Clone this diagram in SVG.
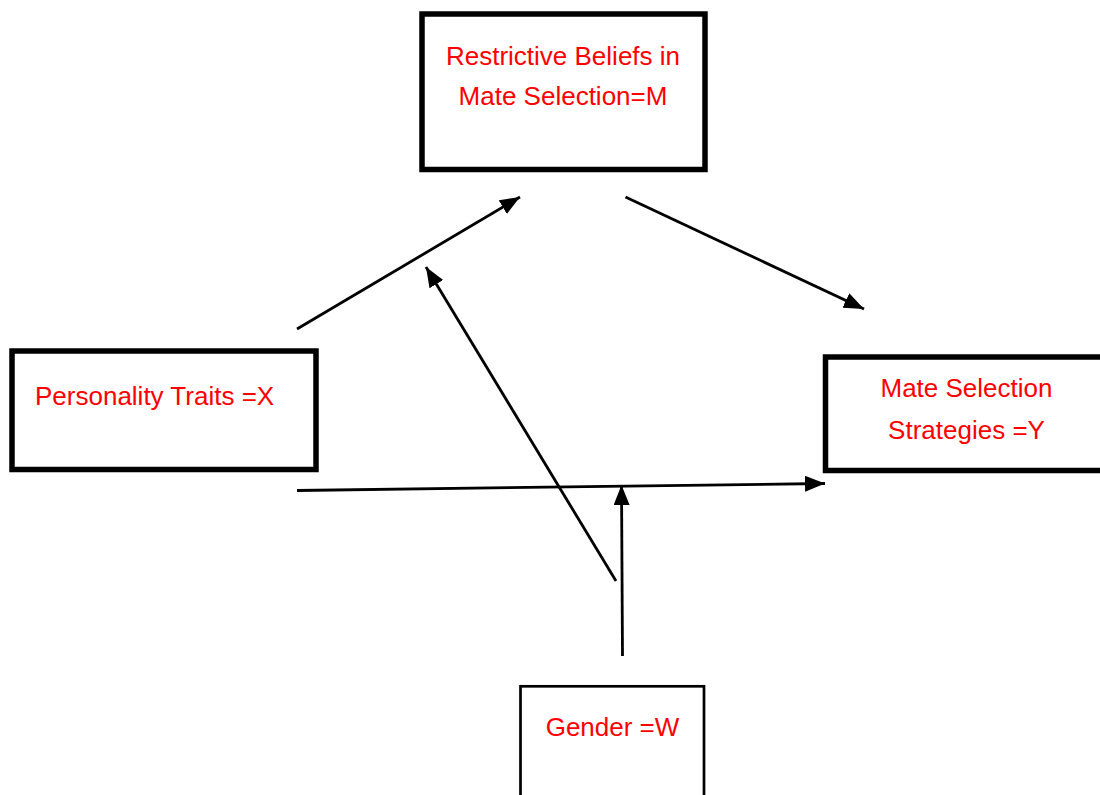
<svg xmlns="http://www.w3.org/2000/svg" width="1100" height="795" viewBox="0 0 1100 795">
<style>
.box{fill:#fff;stroke:#000;stroke-width:5.5}
.thin{fill:#fff;stroke:#000;stroke-width:2.7}
.lbl{font-family:"Liberation Sans",Arial,sans-serif;font-size:26px;fill:#ff0000}
.c{text-anchor:middle}
.edge{stroke:#000;stroke-width:2.8;fill:none;marker-end:url(#ah)}
</style>
<defs>
<marker id="ah" markerUnits="userSpaceOnUse" markerWidth="22" markerHeight="18" refX="20" refY="8" orient="auto">
<path d="M0,0 L20,8 L0,16 z" fill="#000"/>
</marker>
</defs>
<rect width="1100" height="795" fill="#fff"/>
<g id="node-M">
<rect class="box" x="422" y="14" width="283" height="155.5"/>
<text class="lbl c" x="563" y="65">Restrictive Beliefs in</text>
<text class="lbl c" x="563" y="105">Mate Selection=M</text>
</g>
<g id="node-X">
<rect class="box" x="12" y="351" width="304" height="118.5"/>
<text class="lbl" x="35" y="405">Personality Traits =X</text>
</g>
<g id="node-Y">
<rect class="box" x="825.5" y="357" width="300" height="113.5"/>
<text class="lbl c" x="966.5" y="397">Mate Selection</text>
<text class="lbl c" x="966.5" y="439">Strategies =Y</text>
</g>
<g id="node-W">
<rect class="thin" x="520.5" y="686.3" width="183.5" height="130"/>
<text class="lbl c" x="612.5" y="736">Gender =W</text>
</g>
<g id="connectors">
<line class="edge" x1="297" y1="329" x2="520" y2="197"/>
<line class="edge" x1="625.5" y1="197" x2="864" y2="309"/>
<line class="edge" x1="616" y1="581" x2="426" y2="267"/>
<line class="edge" x1="297" y1="490.5" x2="825" y2="483.5"/>
<line class="edge" x1="622.5" y1="656" x2="621.5" y2="485"/>
</g>
</svg>
